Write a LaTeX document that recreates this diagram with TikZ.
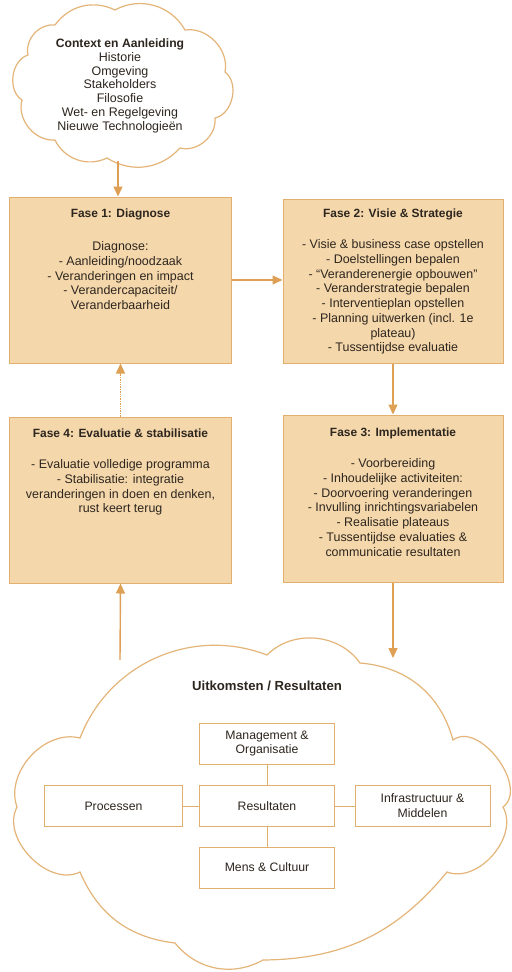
\documentclass[tikz,border=0pt]{standalone}
\usepackage{fontspec}
\setmainfont{Liberation Sans}
\usetikzlibrary{arrows.meta}
\definecolor{boxfill}{RGB}{245,215,172}
\definecolor{boxdraw}{RGB}{225,175,110}
\definecolor{arrowc}{RGB}{222,160,85}
\definecolor{cloudc}{RGB}{228,180,120}
\definecolor{txt}{RGB}{45,38,30}
\begin{document}
\begin{tikzpicture}[x=1bp,y=-1bp,
  phase/.style={draw=boxdraw, fill=boxfill, line width=1bp, inner sep=0pt},
  ptitle/.style={font=\bfseries\fontsize{12}{14.8}\selectfont, text=txt, inner sep=0pt},
  ptext/.style={align=center, font=\fontsize{12.5}{14.8}\selectfont, text=txt, anchor=north, inner sep=0pt},
  arr/.style={draw=arrowc, line width=1.4bp, -{Triangle[width=9bp,length=10bp]}},
  darr/.style={draw=arrowc, line width=1.4bp, densely dotted, -{Triangle[width=9bp,length=10bp]}},
  ibox/.style={draw=boxdraw, fill=white, line width=1bp, minimum width=135bp, minimum height=41bp, inner sep=0pt, align=center, text=txt, font=\fontsize{12.3}{15}\selectfont},
  iline/.style={draw=boxdraw, line width=1bp},
  cloudline/.style={draw=cloudc, line width=1.2bp}]
\useasboundingbox (0,0) rectangle (512,972);
\fill[white] (0,0) rectangle (512,972);

% top cloud
\draw[cloudline] (55,25) to[bend left=40] (115,10) to[bend left=45] (185,30)
  to[bend left=55] (225,72) to[bend left=65] (215,118) to[bend left=55] (180,148)
  to[bend left=40] (107,158) to[bend left=45] (55,140) to[bend left=55] (22,100)
  to[bend left=65] (28,55) to[bend left=55] (55,25);
\node[ptext, font=\fontsize{12.5}{13.8}\selectfont] (ctx) at (120,38.5)
  {\textbf{\fontsize{12.2}{13.8}\selectfont Context en Aanleiding}\\Historie\\Omgeving\\Stakeholders\\Filosofie\\Wet- en Regelgeving\\Nieuwe Technologieën};
\coordinate (cloudtop) at (118,161);

% phase boxes
\node[phase, minimum width=221bp, minimum height=166bp] (f1) at (120.5,280) {};
\node[phase, minimum width=220bp, minimum height=164bp] (f2) at (393,281) {};
\node[phase, minimum width=220bp, minimum height=167bp] (f3) at (393,498.5) {};
\node[phase, minimum width=221bp, minimum height=166bp] (f4) at (120.5,500) {};

\node[ptitle] (t1) at (120.5,214) {Fase 1: Diagnose};
\node[ptext] (b1) at (120.5,241.5) {Diagnose:\\- Aanleiding/noodzaak\\- Veranderingen en impact\\- Verandercapaciteit/\\Veranderbaarheid};

\node[ptitle] (t2) at (393,214) {Fase 2: Visie \& Strategie};
\node[ptext] (b2) at (393,239.5) {- Visie \& business case opstellen\\- Doelstellingen bepalen\\- “Veranderenergie opbouwen”\\- Veranderstrategie bepalen\\- Interventieplan opstellen\\- Planning uitwerken (incl. 1e\\plateau)\\- Tussentijdse evaluatie};

\node[ptitle] (t3) at (393,433) {Fase 3: Implementatie};
\node[ptext] (b3) at (393,458.5) {- Voorbereiding\\- Inhoudelijke activiteiten:\\- Doorvoering veranderingen\\- Invulling inrichtingsvariabelen\\- Realisatie plateaus\\- Tussentijdse evaluaties \&\\communicatie resultaten};

\node[ptitle] (t4) at (120.5,433) {Fase 4: Evaluatie \& stabilisatie};
\node[ptext] (b4) at (120.5,459.5) {- Evaluatie volledige programma\\- Stabilisatie: integratie\\veranderingen in doen en denken,\\rust keert terug};

% bottom cloud
\draw[cloudline] (17,807) to[bend left=62] (80,738) to[bend left=45] (267,655)
  to[bend left=50] (360,663) to[bend left=35] (453,740) to[bend left=90] (503,807)
  to[bend left=70] (447,872) to[bend left=25] (263,960) to[bend left=40] (175,943)
  to[bend left=30] (80,872) to[bend left=72] (17,807);
\node[font=\bfseries\fontsize{13.2}{15}\selectfont, text=txt, inner sep=0pt] (uit) at (267,686) {Uitkomsten / Resultaten};
\coordinate (cloudleft) at (120,660);
\coordinate (cloudright) at (393,658);

\node[ibox] (mo) at (267,743.5) {Management \&\\Organisatie};
\node[ibox] (res) at (267,806) {Resultaten};
\node[ibox, minimum width=137bp] (proc) at (113.5,806) {Processen};
\node[ibox] (infra) at (422.5,806) {Infrastructuur \&\\Middelen};
\node[ibox] (mens) at (267,867.5) {Mens \& Cultuur};

\draw[iline] (mo.south) -- (res.north);
\draw[iline] (proc.east) -- (res.west);
\draw[iline] (res.east) -- (infra.west);
\draw[iline] (res.south) -- (mens.north);

% arrows
\draw[arr] (cloudtop) -- (cloudtop |- f1.north);
\draw[arr] (f1.east) -- (f1.east -| f2.west);
\draw[arr] (f2.south) -- (f3.north);
\draw[arr] (f3.south) -- (cloudright);
\draw[darr] (f4.north) -- (f1.south);
\draw[arr] (cloudleft) -- (f4.south);
\end{tikzpicture}
\end{document}
